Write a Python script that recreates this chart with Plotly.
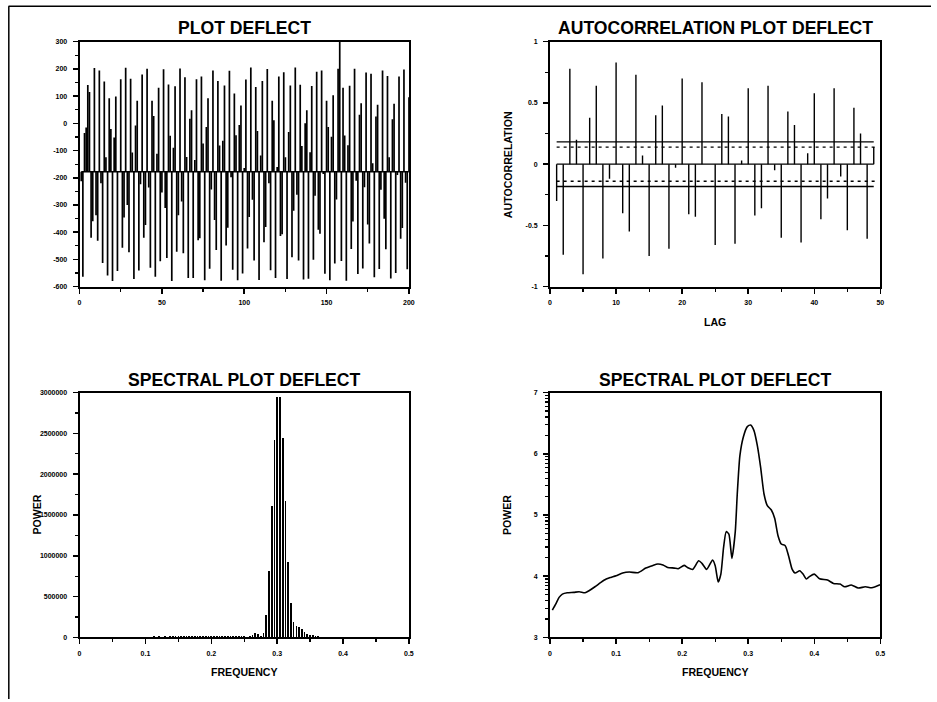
import numpy as np
import plotly.graph_objects as go

# ---------------- data ----------------
deflect = [
    -213, -564, -35, -15, 141, 115, -420, -360, 203, -338,
    -431, 194, -220, -513, 154, -125, -559, 92, -21, -579,
    -52, 99, -543, -175, 162, -457, -346, 204, -300, -474,
    164, -107, -572, -8, 83, -541, -224, 180, -420, -374,
    201, -236, -531, 83, 27, -564, -112, 131, -507, -254,
    199, -311, -495, 143, -46, -579, -90, 136, -472, -338,
    202, -287, -477, 169, -124, -568, 17, 48, -568, -135,
    162, -430, -422, 172, -74, -577, -13, 92, -534, -243,
    194, -355, -465, 156, -81, -578, -64, 139, -449, -384,
    193, -198, -538, 110, -44, -577, -6, 66, -552, -164,
    161, -460, -344, 205, -281, -504, 134, -28, -576, -118,
    156, -437, -381, 200, -220, -540, 83, 11, -568, -160,
    172, -414, -408, 188, -125, -572, -32, 139, -492, -321,
    205, -262, -504, 142, -83, -574, 0, 48, -571, -106,
    137, -501, -266, 190, -391, -406, 194, -186, -553, 83,
    -13, -577, -49, 103, -515, -280, 201, 300, -506, 131,
    -45, -578, -80, 138, -462, -361, 201, -211, -554, 32,
    74, -533, -235, 187, -372, -442, 182, -147, -566, 25,
    68, -535, -244, 194, -351, -463, 174, -125, -570, 15,
    72, -550, -190, 172, -424, -385, 198, -218, -536, 96,
]
index = list(range(1, len(deflect) + 1))

acf_lag = list(range(1, 50))
acf_value = [
    -0.30, -0.74, 0.78, 0.20, -0.90, 0.38, 0.64, -0.77, -0.12, 0.83,
    -0.40, -0.55, 0.73, 0.07, -0.75, 0.40, 0.48, -0.69, -0.03, 0.70,
    -0.41, -0.43, 0.67, 0.00, -0.66, 0.41, 0.39, -0.65, 0.03, 0.62,
    -0.42, -0.36, 0.64, -0.05, -0.60, 0.43, 0.32, -0.64, 0.09, 0.58,
    -0.45, -0.28, 0.62, -0.10, -0.54, 0.46, 0.25, -0.61, 0.14,
]
conf_95 = 0.139
conf_99 = 0.182

per_index = list(range(1, 121))          # frequency = index / 240
per_power = [
    3000, 4500, 6000, 5000, 4200, 6500, 5500, 4800, 5200, 6100,
    4700, 5300, 6800, 5900, 7200, 6400, 8100, 7000, 9200, 8300,
    9800, 8700, 10500, 9600, 11200, 10100, 12400, 11000, 11800, 10600,
    12100, 11400, 13600, 12800, 14900, 13200, 15800, 14600, 16200, 15100,
    14200, 13500, 15300, 12900, 14100, 13700, 15600, 14400, 16800, 13900,
    12600, 15900, 14300, 19500, 17200, 13100, 18400, 21000, 14800, 19800,
    10000, 12000, 28000, 53000, 45000, 20000, 53000, 278000, 809000, 1606000,
    2419000, 2942000, 2950000, 2448000, 1667000, 919000, 417000, 192000, 139000, 131000,
    102000, 69000, 41000, 29000, 29000, 20000, 14000, 10000, 8000, 9500,
    7000, 6500, 8200, 5800, 7400, 6000, 5200, 6900, 5500, 4800,
    6100, 5300, 4600, 5700, 4300, 5100, 4900, 4200, 5400, 4500,
    3900, 4700, 4100, 5000, 4400, 3800, 4600, 4000, 4300, 3700,
]
per_freq = [k / 240 for k in per_index]

smooth_freq = [
    0.0035, 0.0086, 0.0137, 0.0187, 0.026, 0.036, 0.044, 0.053, 0.059, 0.068,
    0.077, 0.085, 0.092, 0.100, 0.110, 0.120, 0.133, 0.145, 0.155, 0.163,
    0.171, 0.178, 0.188, 0.194, 0.203, 0.208, 0.216, 0.225, 0.230, 0.237,
    0.246, 0.250, 0.2546, 0.2586, 0.2627, 0.2667, 0.2707, 0.2753, 0.2804, 0.2834,
    0.2874, 0.2925, 0.2986, 0.3036, 0.3087, 0.3138, 0.3188, 0.3239, 0.3289, 0.335,
    0.340, 0.3451, 0.350, 0.356, 0.361, 0.3664, 0.371, 0.378, 0.383, 0.388,
    0.393, 0.400, 0.408, 0.420, 0.429, 0.439, 0.446, 0.456, 0.4666, 0.477,
    0.487, 0.4995,
]
smooth_logpower = [
    3.447, 3.545, 3.654, 3.708, 3.730, 3.736, 3.747, 3.730, 3.763, 3.828,
    3.899, 3.954, 3.981, 4.008, 4.052, 4.068, 4.057, 4.133, 4.172, 4.199,
    4.183, 4.144, 4.133, 4.123, 4.177, 4.144, 4.112, 4.253, 4.210, 4.112,
    4.264, 4.172, 3.905, 4.035, 4.471, 4.728, 4.689, 4.292, 4.728, 5.343,
    5.970, 6.270, 6.444, 6.471, 6.379, 6.134, 5.779, 5.343, 5.153, 5.082,
    4.946, 4.662, 4.526, 4.499, 4.335, 4.117, 4.052, 4.090, 4.035, 3.954,
    3.997, 4.035, 3.959, 3.937, 3.883, 3.872, 3.828, 3.856, 3.807, 3.828,
    3.812, 3.861,
]

# tick labels (hyphen-minus as in the original)
deflect_ticks = [-600, -500, -400, -300, -200, -100, 0, 100, 200, 300]
deflect_ticktext = ["-600", "-500", "-400", "-300", "-200", "-100", "0", "100", "200", "300"]
acf_ticks = [-1, -0.5, 0, 0.5, 1]
acf_ticktext = ["-1", "-0.5", "0", "0.5", "1"]

# ---------------- styling ----------------
W, H = 937, 702
FONT = "Liberation Sans, Arial, sans-serif"
# small correction for the capture's slight scaling / offset
SC, OX, OY = 0.9905, 1.5, 3.25


def px_x(p):
    return ((p - OX) / SC) / W


def px_y(p):
    return 1 - ((p - OY) / SC) / H


dom_x_left = [px_x(79), px_x(408)]
dom_x_right = [px_x(549), px_x(879)]
dom_y_top = [px_y(286), px_y(41)]
dom_y_bot = [px_y(637), px_y(392)]

tickfont = dict(family=FONT, size=7, color="black", weight="bold")


def axis(domain, rng, dtick, minor_dtick, anchor, standoff):
    return dict(
        domain=domain, range=rng, anchor=anchor,
        tickmode="linear", tick0=0, dtick=dtick,
        ticks="outside", ticklen=5, tickwidth=1.5, tickcolor="black",
        showline=True, linewidth=2, linecolor="black", mirror=True,
        showgrid=False, zeroline=False, tickfont=tickfont,
        ticklabelstandoff=standoff,
        minor=dict(dtick=minor_dtick, tick0=0, ticks="outside", ticklen=3,
                   tickwidth=1.2, tickcolor="black", showgrid=False),
    )


fig = go.Figure()

# Panel 1: run sequence with spikes from mean
mean_val = float(np.mean(deflect))
sx, sy = [], []
for i, v in zip(index, deflect):
    sx += [i, i, None]
    sy += [mean_val, v, None]
fig.add_trace(go.Scatter(x=sx, y=sy, mode="lines", line=dict(color="black", width=1.7),
                         xaxis="x", yaxis="y", hoverinfo="skip"))
fig.add_trace(go.Scatter(x=[index[0], index[-1]], y=[mean_val, mean_val], mode="lines",
                         line=dict(color="black", width=1.5), xaxis="x", yaxis="y"))

# Panel 2: autocorrelation
ax_, ay_ = [], []
for l, v in zip(acf_lag, acf_value):
    ax_ += [l, l, None]
    ay_ += [0, v, None]
fig.add_trace(go.Scatter(x=ax_, y=ay_, mode="lines", line=dict(color="black", width=1.4),
                         xaxis="x2", yaxis="y2"))
fig.add_trace(go.Scatter(x=[acf_lag[0], acf_lag[-1]], y=[0, 0], mode="lines",
                         line=dict(color="black", width=1.4), xaxis="x2", yaxis="y2"))
for c in (conf_99, -conf_99):
    fig.add_trace(go.Scatter(x=[acf_lag[0], acf_lag[-1]], y=[c, c], mode="lines",
                             line=dict(color="black", width=1.4), xaxis="x2", yaxis="y2"))
for c in (conf_95, -conf_95):
    fig.add_trace(go.Scatter(x=[acf_lag[0], acf_lag[-1] + 0.2], y=[c, c], mode="lines",
                             line=dict(color="black", width=1.4, dash="3px,4px"),
                             xaxis="x2", yaxis="y2"))

# Panel 3: periodogram bars
fig.add_trace(go.Bar(x=per_freq, y=per_power, width=0.0026,
                     marker=dict(color="black", line=dict(width=0)),
                     xaxis="x3", yaxis="y3"))

# Panel 4: smoothed log spectrum
fig.add_trace(go.Scatter(x=smooth_freq, y=smooth_logpower, mode="lines",
                         line=dict(color="black", width=1.6, shape="spline", smoothing=0.6),
                         xaxis="x4", yaxis="y4"))

layout = dict(
    width=W, height=H, margin=dict(l=0, r=0, t=0, b=0),
    paper_bgcolor="white", plot_bgcolor="white", showlegend=False, bargap=0,
    xaxis=axis(dom_x_left, [0, 200], 50, 25, "y", 3),
    yaxis=axis(dom_y_top, [-600, 300], 100, 50, "x", 4),
    xaxis2=axis(dom_x_right, [0, 50], 10, 5, "y2", 3),
    yaxis2=axis(dom_y_top, [-1, 1], 0.5, 0.25, "x2", 4),
    xaxis3=axis(dom_x_left, [0, 0.5], 0.1, 0.05, "y3", 3),
    yaxis3=axis(dom_y_bot, [0, 3000000], 500000, 250000, "x3", 4),
    xaxis4=axis(dom_x_right, [0, 0.5], 0.1, 0.05, "y4", 3),
    yaxis4=axis(dom_y_bot, [3, 7], 1, 0.5, "x4", 4),
)
layout["yaxis"].update(tickmode="array", tickvals=deflect_ticks, ticktext=deflect_ticktext)
layout["yaxis2"].update(tickmode="array", tickvals=acf_ticks, ticktext=acf_ticktext)
layout["yaxis3"]["tickformat"] = "d"
minor_log = [d + np.log10(m) for d in (3, 4, 5, 6) for m in range(2, 10)]
layout["yaxis4"]["minor"] = dict(tickmode="array", tickvals=minor_log, ticks="outside",
                                 ticklen=3, tickwidth=1.2, tickcolor="black", showgrid=False)
fig.update_layout(**layout)

title_font = dict(family=FONT, size=17.6, color="black", weight="bold")
label_font = dict(family=FONT, size=10.6, color="black", weight="bold")
cx_left = (dom_x_left[0] + dom_x_left[1]) / 2
cx_right = (dom_x_right[0] + dom_x_right[1]) / 2
annots = [
    dict(text="PLOT DEFLECT", x=cx_left, y=px_y(27), font=title_font),
    dict(text="AUTOCORRELATION PLOT DEFLECT", x=cx_right, y=px_y(27), font=title_font),
    dict(text="SPECTRAL PLOT DEFLECT", x=cx_left, y=px_y(379), font=title_font),
    dict(text="SPECTRAL PLOT DEFLECT", x=cx_right, y=px_y(379), font=title_font),
    dict(text="LAG", x=cx_right, y=px_y(321), font=label_font),
    dict(text="FREQUENCY", x=cx_left, y=px_y(672), font=label_font),
    dict(text="FREQUENCY", x=cx_right, y=px_y(672), font=label_font),
    dict(text="AUTOCORRELATION", x=px_x(507), y=px_y(163.5), font=label_font, textangle=-90),
    dict(text="POWER", x=px_x(36), y=px_y(514.5), font=label_font, textangle=-90),
    dict(text="POWER", x=px_x(506), y=px_y(514.5), font=label_font, textangle=-90),
]
for a in annots:
    a.update(xref="paper", yref="paper", showarrow=False, xanchor="center", yanchor="middle")
fig.update_layout(annotations=annots)

# page frame (top and left edges)
fig.add_shape(type="line", xref="paper", yref="paper", x0=px_x(8), x1=1.0,
              y0=px_y(5.5), y1=px_y(5.5), line=dict(color="black", width=1.5))
fig.add_shape(type="line", xref="paper", yref="paper", x0=px_x(8.3), x1=px_x(8.3),
              y0=px_y(5.5), y1=0.0, line=dict(color="black", width=1.5))

fig.write_html(
    "out.html",
    config={"displayModeBar": False, "staticPlot": True},
    post_script="document.body.style.margin='0';document.body.style.overflow='hidden';",
)
